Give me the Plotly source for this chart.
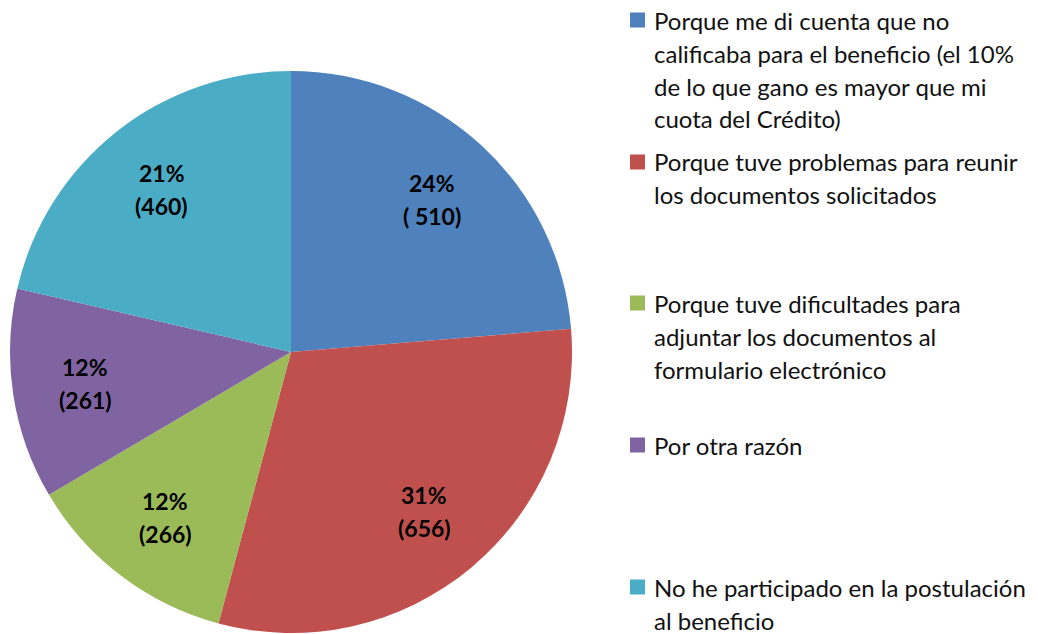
import math
import plotly.graph_objects as go

categories = [
    "Porque me di cuenta que no<br>calificaba para el beneficio (el 10%<br>de lo que gano es mayor que mi<br>cuota del Crédito)",
    "Porque tuve problemas para reunir<br>los documentos solicitados",
    "Porque tuve dificultades para<br>adjuntar los documentos al<br>formulario electrónico",
    "Por otra razón",
    "No he participado en la postulación<br>al beneficio",
]
values = [510, 656, 266, 261, 460]
percent_labels = ["24%", "31%", "12%", "12%", "21%"]
count_labels = ["( 510)", "(656)", "(266)", "(261)", "(460)"]
colors = ["#4F81BD", "#C0504D", "#9BBB59", "#8064A2", "#4BACC6"]

W, H = 1038, 634
FONT = "Lato"

# pie placement (pixels)
CX, CY, R = 291, 352, 281
LABEL_R = 0.74

fig = go.Figure()
fig.add_trace(go.Pie(
    labels=[c.replace("<br>", " ") for c in categories],
    values=values,
    textinfo="none",
    sort=False,
    direction="clockwise",
    rotation=0,
    marker=dict(colors=colors, line=dict(width=0)),
    domain=dict(x=[(CX - R) / W, (CX + R) / W], y=[1 - (CY + R) / H, 1 - (CY - R) / H]),
    showlegend=False,
    hoverinfo="label+value+percent",
))

annotations = []
# slice labels at mid-angle of each slice (derived from the data)
total = sum(values)
cum = 0
for v, p, c in zip(values, percent_labels, count_labels):
    mid = (cum + v / 2) / total * 2 * math.pi
    cum += v
    px = CX + LABEL_R * R * math.sin(mid)
    py = CY - LABEL_R * R * math.cos(mid)
    for k, t in enumerate([p, c]):
        annotations.append(dict(
            text=t, xref="paper", yref="paper",
            x=px / W, y=1 - (py + (k - 0.5) * 33) / H,
            xanchor="center", yanchor="middle", showarrow=False,
            font=dict(family=FONT, size=23, color="black", weight="bold"),
        ))

# manual legend (wrapped text like the original)
item_tops = [20, 162, 303, 445, 587]  # y pixel of first line centre
line_step = 33
shapes = []
for i, (cat, col) in enumerate(zip(categories, colors)):
    y0 = item_tops[i]
    shapes.append(dict(
        type="rect", xref="paper", yref="paper",
        x0=630 / W, x1=645 / W,
        y0=1 - (y0 + 7.5) / H, y1=1 - (y0 - 7.5) / H,
        fillcolor=col, line=dict(width=0),
    ))
    for j, line in enumerate(cat.split("<br>")):
        yc = y0 + j * line_step
        annotations.append(dict(
            text=line, xref="paper", yref="paper",
            x=652 / W, y=1 - yc / H, xanchor="left", yanchor="middle",
            showarrow=False, align="left",
            font=dict(family=FONT, size=24, color="#111111"),
        ))

fig.update_layout(
    width=W, height=H,
    margin=dict(l=0, r=0, t=0, b=0),
    paper_bgcolor="white",
    plot_bgcolor="white",
    shapes=shapes,
    annotations=annotations,
)

fig.write_html("out.html", config={"displayModeBar": False},
               post_script="document.body.style.margin='0';")
